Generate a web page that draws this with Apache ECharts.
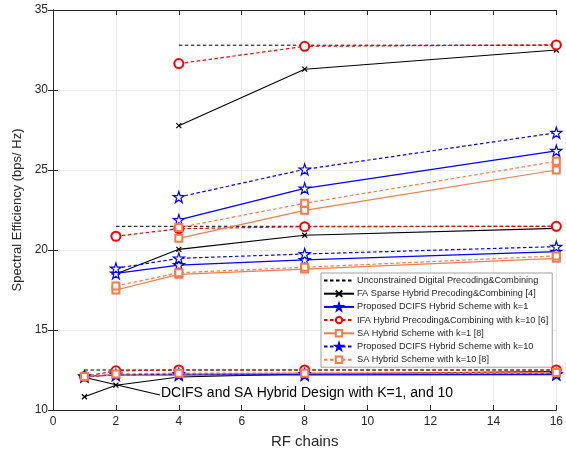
<!DOCTYPE html>
<html><head><meta charset="utf-8">
<script src="https://cdn.jsdelivr.net/npm/echarts@6/dist/echarts.min.js"></script>
<style>html,body{margin:0;padding:0;background:#fff}#c{width:566px;height:454px}</style>
</head><body><div id="c"></div>
<script>
// x positions of each group
const xHigh = [4, 8, 16];
const xMid = [2, 4, 8, 16];
const xLow = [1, 2, 4, 8, 16];

// series values [high group, mid group, low group]
const unconstrained = [[32.8, 32.8, 32.8], [21.48, 21.48, 21.48, 21.48], [12.5, 12.5, 12.5, 12.5, 12.5]];
const faSparse = [[27.77, 31.3, 32.5], [18.5, 20.04, 20.92, 21.35], [10.83, 11.55, 12.06, 12.25, 12.4]];
const dcifsK1 = [[21.88, 23.85, 26.2], [18.54, 19.06, 19.38, 19.9], [12.1, 12.2, 12.2, 12.2, 12.22]];
const ifaK10 = [[31.65, 32.73, 32.82], [20.86, 21.33, 21.46, 21.48], [12.1, 12.45, 12.5, 12.5, 12.5]];
const saK1 = [[20.73, 22.48, 25.0], [17.5, 18.48, 18.81, 19.48], [12.05, 12.2, 12.25, 12.3, 12.3]];
const dcifsK10 = [[23.31, 25.04, 27.33], [18.85, 19.48, 19.75, 20.21], [12.1, 12.2, 12.25, 12.25, 12.25]];
const saK10 = [[21.4, 22.92, 25.54], [17.75, 18.58, 18.92, 19.63], [12.1, 12.25, 12.3, 12.3, 12.35]];

const names = [
  'Unconstrained Digital Precoding&Combining',
  'FA Sparse Hybrid Precoding&Combining [4]',
  'Proposed DCIFS Hybrid Scheme with k=1',
  'IFA Hybrid Precoding&Combining with k=10 [6]',
  'SA Hybrid Scheme with k=1 [8]',
  'Proposed DCIFS Hybrid Scheme with k=10',
  'SA Hybrid Scheme with k=10 [8]'
];
const xTicks = [0, 2, 4, 6, 8, 10, 12, 14, 16];
const yTicks = [10, 15, 20, 25, 30, 35];

// annotation: arrow from text to point, in data coords
const annoText = 'DCIFS and SA Hybrid Design with K=1, and 10';
const annoFrom = [3.4, 10.94];
const annoTo = [0.95, 12.06];

const orange = '#fa7a48';
const star = 'path://M50,2 L61,36 L97,36 L68,57 L79,92 L50,71 L21,92 L32,57 L3,36 L39,36 Z';
const cross = 'path://M0,0 L10,10 M10,0 L0,10';
const dash = [3.5, 2.5];
const styles = [
  {c: '#000', type: dash, sym: 'none', size: 0, w: 1},
  {c: '#000', type: 'solid', sym: cross, size: 5, w: 1.1, fill: '#000'},
  {c: '#0000ff', type: 'solid', sym: star, size: 11, w: 1.3, fill: '#fff'},
  {c: '#ff0000', type: dash, sym: 'emptyCircle', size: 9, w: 1.2},
  {c: orange, type: 'solid', sym: 'emptyRect', size: 7, w: 1.2},
  {c: '#0000ff', type: dash, sym: star, size: 11, w: 1.2, fill: '#fff'},
  {c: orange, type: dash, sym: 'emptyRect', size: 7, w: 1.2}
];
const allData = [unconstrained, faSparse, dcifsK1, ifaK10, saK1, dcifsK10, saK10];
const groupsX = [xHigh, xMid, xLow];

const series = [];
allData.forEach((d, i) => {
  const s = styles[i];
  d.forEach((vals, g) => {
    series.push({
      name: names[i], type: 'line',
      data: vals.map((v, k) => [groupsX[g][k], v]),
      symbol: s.sym, symbolSize: s.size, showSymbol: s.sym !== 'none',
      lineStyle: {color: s.c, type: s.type, width: s.w},
      itemStyle: {color: s.fill || s.c, borderColor: s.c, borderWidth: 1.2},
      emphasis: {disabled: true}, animation: false, z: 2 + i
    });
  });
});
series.push({
  type: 'line', data: [[annoTo[0], annoTo[1]]], symbol: 'none', silent: true, animation: false,
  lineStyle: {opacity: 0},
  markLine: {
    silent: true, animation: false, symbol: ['none', 'arrow'], symbolSize: [0, 11],
    lineStyle: {color: '#000', type: 'solid', width: 1.2}, label: {show: false},
    data: [[{coord: annoFrom}, {coord: annoTo}]]
  }
});

const legendData = names.map((n, i) => i === 0
  ? {name: n, itemStyle: {opacity: 0}}
  : {name: n});

const axisCol = '#262626';
const chart = echarts.init(document.getElementById('c'));
chart.setOption({
  backgroundColor: '#fff',
  animation: false,
  textStyle: {fontFamily: 'Liberation Sans, Arial, sans-serif'},
  grid: {left: 53, right: 7, top: 10, bottom: 44},
  xAxis: [{
    type: 'value', min: xTicks[0], max: xTicks[xTicks.length - 1], interval: 2,
    name: 'RF chains', nameLocation: 'middle', nameGap: 24,
    nameTextStyle: {fontSize: 15, color: axisCol},
    axisLine: {onZero: false, lineStyle: {color: axisCol}},
    axisTick: {inside: true, length: 5, lineStyle: {color: axisCol}},
    axisLabel: {fontSize: 12, color: axisCol, margin: 6},
    splitLine: {show: true, lineStyle: {color: '#ebebeb'}}
  }, {
    type: 'value', position: 'top', min: 0, max: 16, interval: 2,
    axisLine: {show: true, lineStyle: {color: axisCol}},
    axisTick: {inside: true, length: 5, lineStyle: {color: axisCol}},
    axisLabel: {show: false}, splitLine: {show: false}
  }],
  yAxis: [{
    type: 'value', min: yTicks[0], max: yTicks[yTicks.length - 1], interval: 5,
    name: 'Spectral Efficiency (bps/ Hz)', nameLocation: 'middle', nameGap: 27,
    nameTextStyle: {fontSize: 13, color: axisCol},
    axisLine: {show: true, onZero: false, lineStyle: {color: axisCol}},
    axisTick: {show: true, inside: true, length: 5, lineStyle: {color: axisCol}},
    axisLabel: {fontSize: 12, color: axisCol, margin: 5},
    splitLine: {show: true, lineStyle: {color: '#ebebeb'}}
  }, {
    type: 'value', position: 'right', min: 10, max: 35, interval: 5,
    axisLine: {show: true, lineStyle: {color: axisCol}},
    axisTick: {show: true, inside: true, length: 5, lineStyle: {color: axisCol}},
    axisLabel: {show: false}, splitLine: {show: false}
  }],
  legend: {
    data: legendData, orient: 'vertical', left: 321, top: 273,
    itemWidth: 30, itemHeight: 8, itemGap: 4.2,
    padding: [3, 4, 3, 2],
    backgroundColor: '#fff', borderColor: '#a0a0a0', borderWidth: 1,
    textStyle: {fontSize: 9.2, color: axisCol, padding: [0, 0, 0, -2]},
    selectedMode: false
  },
  series: series
});
const p = chart.convertToPixel({gridIndex: 0}, annoFrom);
chart.setOption({
  graphic: [{
    type: 'text', left: p[0] + 1, top: p[1] - 9,
    style: {text: annoText, font: '14px Liberation Sans, Arial, sans-serif', fill: '#000'},
    z: 100
  }]
});
</script></body></html>
